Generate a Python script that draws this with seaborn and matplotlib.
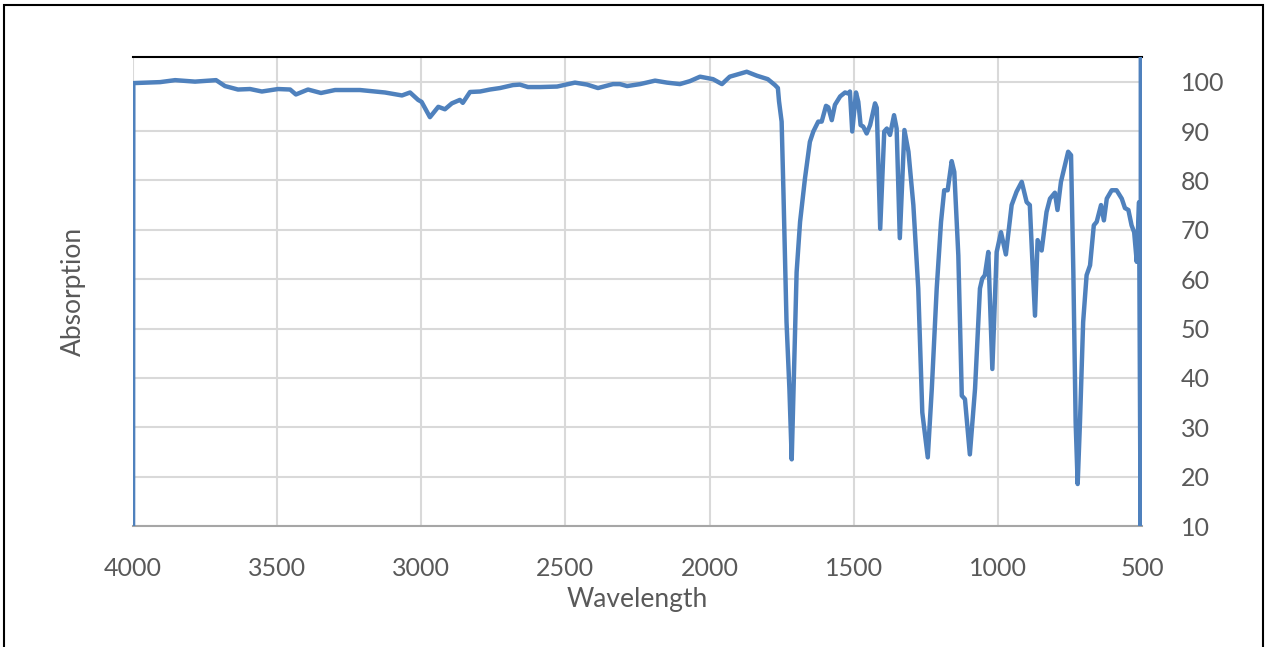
import numpy as np
import pandas as pd
import matplotlib.pyplot as plt
import seaborn as sns
from matplotlib.patches import Rectangle

# IR spectrum, values
wavenumber = [
    4000, 3999, 3906, 3854, 3785, 3733, 3712, 3681, 3636, 3594, 3553, 3497,
    3455, 3435, 3393, 3348, 3299, 3213, 3126, 3067, 3039, 3011, 2999, 2970,
    2941, 2918, 2894, 2866, 2856, 2831, 2796, 2762, 2727, 2682, 2658, 2630,
    2588, 2529, 2467, 2425, 2387, 2335, 2311, 2286, 2241, 2189, 2148, 2103,
    2068, 2033, 1988, 1957, 1930, 1871, 1836, 1798, 1773, 1763, 1759, 1750,
    1744, 1733, 1723, 1715, 1707, 1698, 1686, 1669, 1652, 1640, 1623, 1611,
    1596, 1588, 1576, 1565, 1547, 1530, 1519, 1513, 1505, 1492, 1484, 1476,
    1467, 1455, 1443, 1426, 1420, 1408, 1394, 1385, 1374, 1360, 1351, 1340,
    1324, 1310, 1293, 1276, 1262, 1243, 1229, 1212, 1197, 1186, 1174, 1160,
    1151, 1137, 1125, 1114, 1097, 1079, 1062, 1054, 1045, 1033, 1019, 1004,
    989, 972, 952, 935, 917, 900, 889, 881, 871, 862, 848, 831, 819, 802,
    793, 781, 767, 756, 746, 738, 730, 723, 715, 704, 692, 680, 667, 657,
    642, 632, 622, 605, 588, 570, 559, 547, 536, 527, 518, 510, 504, 504,
]
absorption = [
    0, 99.7, 99.9, 100.3, 100.0, 100.2, 100.3, 99.1, 98.4, 98.5, 98.0, 98.5,
    98.4, 97.4, 98.4, 97.7, 98.3, 98.3, 97.8, 97.2, 97.8, 96.3, 95.9, 92.8,
    94.9, 94.4, 95.6, 96.3, 95.7, 97.9, 98.0, 98.4, 98.7, 99.3, 99.4, 98.9,
    98.9, 99.0, 99.8, 99.4, 98.7, 99.5, 99.5, 99.1, 99.5, 100.2, 99.8, 99.5,
    100.1, 101.0, 100.5, 99.5, 101.0, 102.0, 101.2, 100.5, 99.3, 98.7, 96.0, 91.9,
    78.4, 51.3, 37.8, 23.5, 41.1, 61.4, 71.6, 80.4, 87.8, 89.9, 91.9, 91.9,
    95.1, 94.8, 92.2, 95.3, 97.0, 97.8, 97.6, 98.0, 89.9, 97.8, 95.9, 91.2,
    90.9, 89.5, 91.2, 95.6, 94.7, 70.2, 89.9, 90.5, 89.2, 93.2, 90.5, 68.3,
    90.2, 85.8, 75.0, 58.1, 33.0, 23.9, 37.8, 58.1, 71.6, 78.0, 78.0, 83.9,
    81.7, 64.8, 36.4, 35.7, 24.5, 37.8, 58.1, 60.1, 60.8, 65.5, 41.8, 65.5,
    69.5, 65.0, 75.0, 77.7, 79.7, 75.6, 75.0, 64.8, 52.6, 67.9, 65.8, 73.6,
    76.3, 77.5, 74.0, 79.7, 83.1, 85.8, 85.1, 61.4, 31.0, 18.5, 31.0, 51.3,
    60.8, 62.8, 70.9, 71.6, 75.0, 71.9, 76.3, 78.0, 78.0, 76.3, 74.4, 74.0,
    70.9, 69.5, 63.5, 75.6, 0, 110,
]
x_ticks = [4000, 3500, 3000, 2500, 2000, 1500, 1000, 500]
y_ticks = [10, 20, 30, 40, 50, 60, 70, 80, 90, 100]

df = pd.DataFrame({"Wavelength": wavenumber, "Absorption": absorption})

sns.set_style("white")
plt.rcParams["font.family"] = ["Lato", "DejaVu Sans"]

fig = plt.figure(figsize=(12.67, 6.47), dpi=100)
ax = fig.add_axes([0.105, 0.187, 0.7963, 0.725])

sns.lineplot(data=df, x="Wavelength", y="Absorption", sort=False,
             estimator=None, color="#4f81bd", linewidth=3.2, ax=ax, zorder=3)
ax.lines[0].set_solid_joinstyle("round")

ax.set_xlim(4000, 500)
ax.set_ylim(10, 105)
ax.set_xticks(x_ticks)
ax.set_yticks(y_ticks)
ax.grid(True, color="#d9d9d9", linewidth=1.5)
ax.set_axisbelow(True)

ax.yaxis.tick_right()
ax.tick_params(axis="both", length=0, labelsize=18, labelcolor="#595959")
ax.tick_params(axis="y", pad=28)
ax.tick_params(axis="x", pad=22)
for lbl in ax.get_yticklabels():
    lbl.set_horizontalalignment("left")

ax.set_xlabel("Wavelength", fontsize=19, color="#595959", labelpad=5)
ax.set_ylabel("")
fig.text(0.058, 0.55, "Absorption", rotation=90, fontsize=19,
         color="#595959", ha="center", va="center")

ax.spines["top"].set_color("black")
ax.spines["top"].set_linewidth(1.5)
ax.spines["bottom"].set_color("#a6a6a6")
ax.spines["bottom"].set_linewidth(1.5)
ax.spines["left"].set_visible(False)
ax.spines["right"].set_visible(False)

# outer chart frame
fig.patches.append(Rectangle((4 / 1267, -0.01), 1259 / 1267, 1.002,
                             transform=fig.transFigure, fill=False,
                             edgecolor="black", linewidth=1.5))

fig.savefig("out.png", dpi=100, facecolor="white")
